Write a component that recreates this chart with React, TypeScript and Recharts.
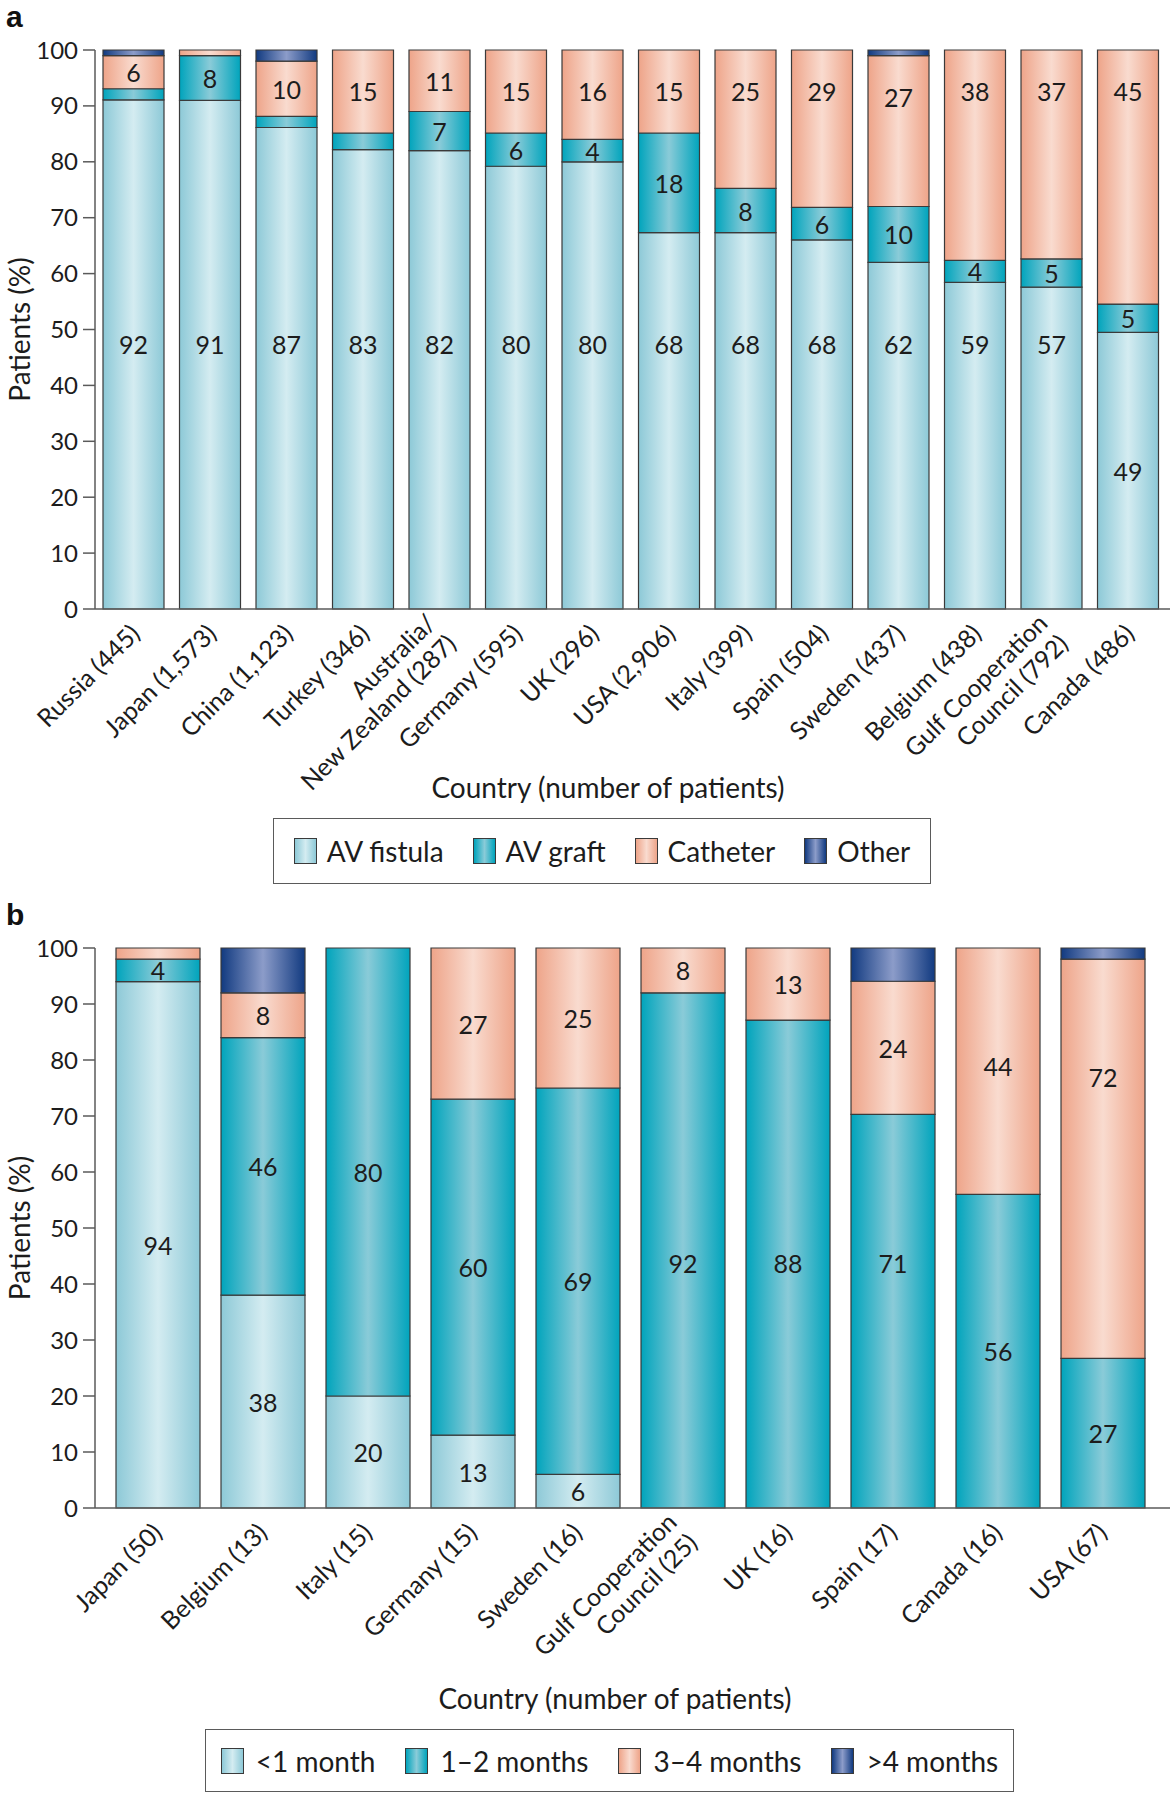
import React from 'react';
import { Bar, BarChart, LabelList, XAxis, YAxis } from 'recharts';

const FONT = "Lato, 'Open Sans', sans-serif";
const INK = '#1c1c1c';
const EDGE = '#3a3a3a';
const AXIS = '#5a5a5a';

// a: vascular access at the start of haemodialysis
const accessCountries = [
  'Russia (445)',
  'Japan (1,573)',
  'China (1,123)',
  'Turkey (346)',
  'Australia/\nNew Zealand (287)',
  'Germany (595)',
  'UK (296)',
  'USA (2,906)',
  'Italy (399)',
  'Spain (504)',
  'Sweden (437)',
  'Belgium (438)',
  'Gulf Cooperation\nCouncil (792)',
  'Canada (486)',
];
const avFistula = [92, 91, 87, 83, 82, 80, 80, 68, 68, 68, 62, 59, 57, 49];
const avGraft = [2, 8, 2, 3, 7, 6, 4, 18, 8, 6, 10, 4, 5, 5];
const catheter = [6, 1, 10, 15, 11, 15, 16, 15, 25, 29, 27, 38, 37, 45];
const otherAccess = [1, 0, 2, 0, 0, 0, 0, 0, 0, 0, 1, 0, 0, 0];

// b: time from referral to access creation
const referralCountries = [
  'Japan (50)',
  'Belgium (13)',
  'Italy (15)',
  'Germany (15)',
  'Sweden (16)',
  'Gulf Cooperation\nCouncil (25)',
  'UK (16)',
  'Spain (17)',
  'Canada (16)',
  'USA (67)',
];
const underOneMonth = [94, 38, 20, 13, 6, 0, 0, 0, 0, 0];
const oneToTwoMonths = [4, 46, 80, 60, 69, 92, 88, 71, 56, 27];
const threeToFourMonths = [2, 8, 0, 27, 25, 8, 13, 24, 44, 72];
const overFourMonths = [0, 8, 0, 0, 0, 0, 0, 6, 0, 2];

const percentTicks = [0, 10, 20, 30, 40, 50, 60, 70, 80, 90, 100];

const shades: Record<string, [string, string]> = {
  pale: ['#8dc9d7', '#d4ecf1'],
  teal: ['#00a4bc', '#8acbd8'],
  salmon: ['#eea489', '#f9dbcf'],
  navy: ['#113a80', '#8c9cc9'],
};

const PLOT_A = 559;
const PLOT_B = 560;

const accessData = accessCountries.map((country, i) => ({
  country,
  fistula: avFistula[i],
  graft: avGraft[i],
  catheter: catheter[i],
  other: otherAccess[i],
}));

const referralData = referralCountries.map((country, i) => ({
  country,
  lt1: underOneMonth[i],
  m12: oneToTwoMonths[i],
  m34: threeToFourMonths[i],
  gt4: overFourMonths[i],
}));

function segBox(p: any) {
  const v = p.viewBox && p.viewBox.width != null ? p.viewBox : p;
  const x = Number(v.x);
  const y = Number(v.y);
  const w = Number(v.width);
  const h = Number(v.height);
  const top = h >= 0 ? y : y + h;
  return { cx: x + w / 2, top, h: Math.abs(h), bottom: top + Math.abs(h) };
}

const segText = (cx: number, cy: number, v: any) => (
  <text
    x={cx}
    y={cy}
    textAnchor='middle'
    dominantBaseline='central'
    fontSize={25}
    fontFamily={FONT}
    fill={INK}
  >
    {v}
  </text>
);

const centeredLabel = (p: any) => {
  if (!(p.value >= 4)) return null;
  const r = segBox(p);
  return segText(r.cx, r.top + r.h / 2, p.value);
};

// tall bottom segments share one line of labels
const fistulaLabel = (p: any) => {
  if (!(p.value >= 4)) return null;
  const r = segBox(p);
  const cy = p.value >= 55 ? r.bottom - 0.474 * PLOT_A : r.top + r.h / 2;
  return segText(r.cx, cy, p.value);
};

const catheterLabel = (p: any) => {
  if (!(p.value >= 4)) return null;
  const r = segBox(p);
  return segText(r.cx, Math.min(r.top + r.h / 2, r.top + 0.074 * PLOT_A), p.value);
};

const monthsLabel = (p: any) => {
  if (!(p.value >= 4)) return null;
  const r = segBox(p);
  const fromBase = underOneMonth[p.index] === 0 && p.value >= 60;
  const cy = fromBase ? r.bottom - 0.437 * PLOT_B : r.top + r.h / 2;
  return segText(r.cx, cy, p.value);
};

const lateLabel = (p: any) => {
  if (!(p.value >= 4)) return null;
  const r = segBox(p);
  return segText(r.cx, Math.min(r.top + r.h / 2, r.top + 0.21 * PLOT_B), p.value);
};

const accessSeries = [
  { key: 'fistula', name: 'AV fistula', shade: 'pale', label: fistulaLabel },
  { key: 'graft', name: 'AV graft', shade: 'teal', label: centeredLabel },
  { key: 'catheter', name: 'Catheter', shade: 'salmon', label: catheterLabel },
  { key: 'other', name: 'Other', shade: 'navy', label: null },
];

const referralSeries = [
  { key: 'lt1', name: '<1 month', shade: 'pale', label: centeredLabel },
  { key: 'm12', name: '1\u20132 months', shade: 'teal', label: monthsLabel },
  { key: 'm34', name: '3\u20134 months', shade: 'salmon', label: lateLabel },
  { key: 'gt4', name: '>4 months', shade: 'navy', label: null },
];

const gradientDefs = (prefix: string) => (
  <defs>
    {Object.entries(shades).map(([k, [edge, mid]]) => (
      <linearGradient key={k} id={`${prefix}-${k}`} x1='0' y1='0' x2='1' y2='0'>
        <stop offset='0%' stopColor={edge} />
        <stop offset='50%' stopColor={mid} />
        <stop offset='100%' stopColor={edge} />
      </linearGradient>
    ))}
  </defs>
);

const countryTick = (offX: number, offY: number) => (props: any) => {
  const { x, y, payload } = props;
  const lines = String(payload.value).split('\n');
  const lh = 29;
  return (
    <g transform={`translate(${x + offX},${y + offY})`}>
      <text transform='rotate(-45)' textAnchor='end' fontSize={25} fontFamily={FONT} fill={INK}>
        {lines.map((l, i) => (
          <tspan key={i} x={0} y={(i - (lines.length - 1) / 2) * lh} dy='0.35em'>
            {l}
          </tspan>
        ))}
      </text>
    </g>
  );
};

const yTitle = (p: any) => {
  const vb = p.viewBox;
  const cy = vb.y + vb.height / 2;
  return (
    <text
      x={30}
      y={cy}
      transform={`rotate(-90, 30, ${cy})`}
      textAnchor='middle'
      fontSize={28}
      fontFamily={FONT}
      fill={INK}
    >
      Patients (%)
    </text>
  );
};

const xTitle = (cx: number, cy: number) => () => (
  <text x={cx} y={cy} textAnchor='middle' dominantBaseline='central' fontSize={28} fontFamily={FONT} fill={INK}>
    Country (number of patients)
  </text>
);

function KeyBox({ items, left, top, width, height, gap, swatchGap }: any) {
  return (
    <div
      style={{
        position: 'absolute',
        left,
        top,
        width,
        height,
        boxSizing: 'border-box',
        border: `1.5px solid ${AXIS}`,
        display: 'flex',
        alignItems: 'center',
        justifyContent: 'center',
        gap,
        fontFamily: FONT,
        fontSize: 28,
        color: INK,
      }}
    >
      {items.map((it: any) => {
        const [edge, mid] = shades[it.shade];
        return (
          <div key={it.key} style={{ display: 'flex', alignItems: 'center' }}>
            <span
              style={{
                display: 'inline-block',
                width: 23,
                height: 26,
                boxSizing: 'border-box',
                border: `1px solid ${EDGE}`,
                background: `linear-gradient(to right, ${edge}, ${mid}, ${edge})`,
                marginRight: swatchGap,
              }}
            />
            <span>{it.name}</span>
          </div>
        );
      })}
    </div>
  );
}

const letterStyle = (top: number): React.CSSProperties => ({
  position: 'absolute',
  left: 6,
  top,
  fontFamily: "'Liberation Sans', Arial, sans-serif",
  fontWeight: 'bold',
  fontSize: 30,
  lineHeight: 'normal',
  color: '#111',
});

const yAxisProps = {
  width: 60,
  domain: [0, 1] as [number, number],
  ticks: percentTicks.map((t) => t / 100),
  tickFormatter: (v: number) => String(Math.round(v * 100)),
  tickSize: 12,
  tickMargin: 5,
  axisLine: { stroke: AXIS, strokeWidth: 1.5 },
  tickLine: { stroke: AXIS, strokeWidth: 1.5 },
  tick: { fontSize: 24, fill: INK, fontFamily: FONT },
};

export default function App() {
  return (
    <div style={{ position: 'relative', width: 1175, height: 1800, background: '#fff', overflow: 'hidden' }}>
      <style>{'body{margin:0}'}</style>

      <div style={letterStyle(0)}>a</div>
      <div style={{ position: 'absolute', left: 0, top: 0 }}>
        <BarChart
          width={1175}
          height={820}
          data={accessData}
          stackOffset='expand'
          barSize={61}
          margin={{ top: 50, right: 5, left: 35, bottom: 11 }}
        >
          {gradientDefs('ga')}
          <XAxis
            dataKey='country'
            interval={0}
            height={200}
            tickLine={false}
            tickSize={0}
            tickMargin={0}
            padding={{ left: 0, right: 4 }}
            axisLine={{ stroke: AXIS, strokeWidth: 1.5 }}
            tick={countryTick(2, 20)}
            label={xTitle(608, 787)}
          />
          <YAxis {...yAxisProps} label={yTitle} />
          {accessSeries.map((s) => (
            <Bar
              key={s.key}
              dataKey={s.key}
              name={s.name}
              stackId='access'
              fill={`url(#ga-${s.shade})`}
              stroke={EDGE}
              strokeWidth={1.2}
              isAnimationActive={false}
            >
              {s.label && <LabelList dataKey={s.key} content={s.label} />}
            </Bar>
          ))}
        </BarChart>
      </div>
      <KeyBox items={accessSeries} left={273} top={818} width={658} height={66} gap={29} swatchGap={10} />

      <div style={letterStyle(898)}>b</div>
      <div style={{ position: 'absolute', left: 0, top: 900 }}>
        <BarChart
          width={1175}
          height={820}
          data={referralData}
          stackOffset='expand'
          barSize={84}
          margin={{ top: 48, right: 5, left: 35, bottom: 12 }}
        >
          {gradientDefs('gb')}
          <XAxis
            dataKey='country'
            interval={0}
            height={200}
            tickLine={false}
            tickSize={0}
            tickMargin={0}
            padding={{ left: 10, right: 15 }}
            axisLine={{ stroke: AXIS, strokeWidth: 1.5 }}
            tick={countryTick(0, 20)}
            label={xTitle(615, 798)}
          />
          <YAxis {...yAxisProps} label={yTitle} />
          {referralSeries.map((s) => (
            <Bar
              key={s.key}
              dataKey={s.key}
              name={s.name}
              stackId='referral'
              fill={`url(#gb-${s.shade})`}
              stroke={EDGE}
              strokeWidth={1.2}
              isAnimationActive={false}
            >
              {s.label && <LabelList dataKey={s.key} content={s.label} />}
            </Bar>
          ))}
        </BarChart>
      </div>
      <KeyBox items={referralSeries} left={205} top={1729} width={809} height={63} gap={30} swatchGap={12} />
    </div>
  );
}
